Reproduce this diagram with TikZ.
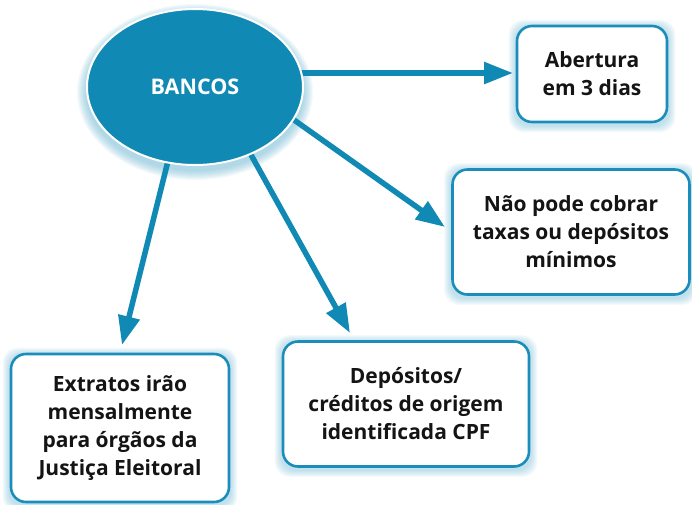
\documentclass[tikz,border=0pt]{standalone}
\usepackage{fontspec}
\setmainfont{Open Sans}
\usetikzlibrary{arrows.meta,shapes.geometric,calc}
\definecolor{tealb}{HTML}{1089B4}
\definecolor{boxb}{HTML}{1B8DBA}
\definecolor{glow}{HTML}{6FBAD6}
\pgfdeclarelayer{background}
\pgfsetlayers{background,main}
\tikzset{
  box/.style={draw=boxb, line width=2.6pt, fill=white, rounded corners=15pt,
    align=center, font=\fontsize{21}{28}\selectfont\bfseries, text=black!92},
  arr/.style={draw=tealb, line width=5.5pt, -{Triangle[length=29pt,width=21pt]}},
  hub/.style={ellipse, fill=tealb, draw=white, line width=2pt,
    minimum width=216pt, minimum height=156pt, text=white,
    font=\fontsize{21.5}{26}\selectfont\bfseries},
  glowfill/.style={fill=glow, opacity=0.07},
}
\newcommand{\boxglow}[1]{%
  \foreach \r in {1,...,7}{%
    \fill[glowfill, rounded corners=15pt] ($(#1.south west)+(-\r,\r+2)$) rectangle ($(#1.north east)+(\r,-\r+2)$);}}
\begin{document}
\begin{tikzpicture}[x=1pt,y=-1pt]
\useasboundingbox (0,0) rectangle (692,504);
\node[hub] (e) at (195,87) {BANCOS};
\node[box, minimum width=150pt, minimum height=96pt] (b1) at (592,74) {Abertura\\em 3 dias};
\node[box, minimum width=237pt, minimum height=125pt] (b2) at (571,232) {Não pode cobrar\\taxas ou depósitos\\mínimos};
\node[box, minimum width=218pt, minimum height=148pt] (b3) at (120,428) {Extratos irão\\mensalmente\\para órgãos da\\Justiça Eleitoral};
\node[box, minimum width=246pt, minimum height=125pt] (b4) at (406,404) {Depósitos/\\créditos de origem\\identificada CPF};
\coordinate (s1) at (290,73);
\coordinate (t1) at (513,73);
\coordinate (s2) at (280,110);
\coordinate (t2) at (445,227);
\coordinate (s3) at (240,135);
\coordinate (t3) at (350,333);
\coordinate (s4) at (172,145);
\coordinate (t4) at (122,345);
\begin{pgfonlayer}{background}
\fill[white] (0,0) rectangle (692,504);
\foreach \r in {1,...,10}{\fill[glowfill] ($(e.center)+(0,5)$) ellipse ({108+\r} and {78+\r});}
\boxglow{b1}
\boxglow{b2}
\boxglow{b3}
\boxglow{b4}
\draw[arr] (s1) -- (t1);
\draw[arr] (s2) -- (t2);
\draw[arr] (s3) -- (t3);
\draw[arr] (s4) -- (t4);
\end{pgfonlayer}
\end{tikzpicture}
\end{document}
